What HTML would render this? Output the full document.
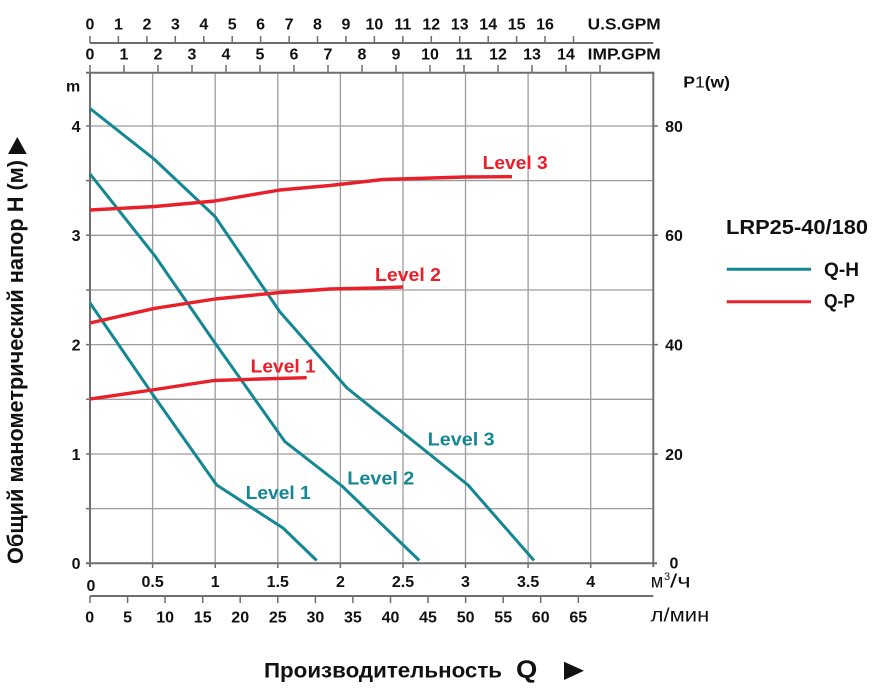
<!DOCTYPE html>
<html><head><meta charset="utf-8"><style>
html,body{margin:0;padding:0;background:#fff;}
svg{display:block;}
text{font-family:"Liberation Sans","DejaVu Sans",sans-serif;fill:#111;}
.b{font-weight:bold;}
</style></head><body>
<svg width="878" height="694" viewBox="0 0 878 694" xmlns="http://www.w3.org/2000/svg">
<!-- grid -->
<g stroke="#9c9c9c" stroke-width="1.3" fill="none">
<line x1="152.6" y1="72.7" x2="152.6" y2="563.3"/>
<line x1="215.2" y1="72.7" x2="215.2" y2="563.3"/>
<line x1="277.8" y1="72.7" x2="277.8" y2="563.3"/>
<line x1="340.4" y1="72.7" x2="340.4" y2="563.3"/>
<line x1="403" y1="72.7" x2="403" y2="563.3"/>
<line x1="465.5" y1="72.7" x2="465.5" y2="563.3"/>
<line x1="528.1" y1="72.7" x2="528.1" y2="563.3"/>
<line x1="590.7" y1="72.7" x2="590.7" y2="563.3"/>
<line x1="90" y1="508.6" x2="653.3" y2="508.6"/>
<line x1="90" y1="454" x2="653.3" y2="454"/>
<line x1="90" y1="399.3" x2="653.3" y2="399.3"/>
<line x1="90" y1="344.6" x2="653.3" y2="344.6"/>
<line x1="90" y1="290" x2="653.3" y2="290"/>
<line x1="90" y1="235.3" x2="653.3" y2="235.3"/>
<line x1="90" y1="180.6" x2="653.3" y2="180.6"/>
<line x1="90" y1="126" x2="653.3" y2="126"/>
</g>
<!-- axes -->
<g stroke="#6e6e6e" stroke-width="2" fill="none">
<line x1="90" y1="71.7" x2="90" y2="567"/>
<line x1="653.3" y1="71.7" x2="653.3" y2="567"/>
<line x1="86" y1="72.7" x2="654.3" y2="72.7"/>
<line x1="86" y1="563.3" x2="657" y2="563.3"/>
<line x1="90" y1="43" x2="653.3" y2="43"/>
<line x1="90" y1="596" x2="653.3" y2="596"/>
</g>
<g stroke="#6e6e6e" stroke-width="1.5" fill="none">
<path d="M86 508.6H90M86 454H90M86 399.3H90M86 344.6H90M86 290H90M86 235.3H90M86 180.6H90M86 126H90"/>
<path d="M653 454H658M653 344.6H658M653 235.3H658M653 126H658"/>
<path d="M152.6 563V568M215.2 563V568M277.8 563V568M340.4 563V568M403 563V568M465.5 563V568M528.1 563V568M590.7 563V568"/>
<path d="M90 596V603M127.6 596V603M165.1 596V603M202.7 596V603M240.2 596V603M277.8 596V603M315.4 596V603M352.9 596V603M390.5 596V603M428 596V603M465.6 596V603M503.2 596V603M540.7 596V603M578.3 596V603"/>
<path d="M90 43V36M118.4 43V36M146.9 43V36M175.3 43V36M203.8 43V36M232.2 43V36M260.6 43V36M289.1 43V36M317.5 43V36M346 43V36M374.4 43V36M402.8 43V36M431.3 43V36M459.7 43V36M488.2 43V36M516.6 43V36M545 43V36M573.5 43V36"/>
<path d="M90 72V65M124 72V65M158 72V65M192 72V65M226 72V65M260 72V65M294 72V65M328 72V65M362 72V65M396 72V65M430 72V65M464 72V65M498 72V65M532 72V65M566 72V65M600 72V65"/>
</g>
<!-- curves -->
<g fill="none" stroke-linejoin="round" stroke-linecap="butt">
<g stroke="#148794" stroke-width="3">
<polyline points="90,108.5 154,159 215,216.5 280,312 347,388 468,485 534,560.5"/>
<polyline points="90,174 155,256 215,343 285,441.7 342,486 419.3,560.5"/>
<polyline points="90,303 151.7,393 216.7,485 283,528 316.7,560.5"/>
</g>
<g stroke="#e8202a" stroke-width="3.4">
<polyline points="90,399 152,390 214,380.5 260,379 306.7,377.7"/>
<polyline points="90,323 155,308.3 215,299 280,292.5 330,289 385,287.7 403,287"/>
<polyline points="90,210 155,206.5 215,201 280,190 330,185.5 383,179.5 465,177 512,176.7"/>
</g>
</g>
<!-- curve labels -->
<g class="b" font-size="18.5">
<text x="482.7" y="169" style="fill:#e8202a" textLength="65" lengthAdjust="spacingAndGlyphs">Level 3</text>
<text x="375" y="281" style="fill:#e8202a" textLength="66" lengthAdjust="spacingAndGlyphs">Level 2</text>
<text x="250.7" y="372.7" style="fill:#e8202a" textLength="65" lengthAdjust="spacingAndGlyphs">Level 1</text>
<text x="245.7" y="499" style="fill:#148794" textLength="65" lengthAdjust="spacingAndGlyphs">Level 1</text>
<text x="347.3" y="484.3" style="fill:#148794" textLength="67" lengthAdjust="spacingAndGlyphs">Level 2</text>
<text x="427.7" y="445.7" style="fill:#148794" textLength="67" lengthAdjust="spacingAndGlyphs">Level 3</text>
</g>
<!-- top labels -->
<g class="b" font-size="16" text-anchor="middle">
<text x="90" y="29.5">0</text><text x="118.4" y="29.5">1</text><text x="146.9" y="29.5">2</text><text x="175.3" y="29.5">3</text><text x="203.8" y="29.5">4</text><text x="232.2" y="29.5">5</text><text x="260.6" y="29.5">6</text><text x="289.1" y="29.5">7</text><text x="317.5" y="29.5">8</text><text x="346" y="29.5">9</text><text x="374.4" y="29.5">10</text><text x="402.8" y="29.5">11</text><text x="431.3" y="29.5">12</text><text x="459.7" y="29.5">13</text><text x="488.2" y="29.5">14</text><text x="516.6" y="29.5">15</text><text x="545" y="29.5">16</text>
<text x="90" y="59.5">0</text><text x="124" y="59.5">1</text><text x="158" y="59.5">2</text><text x="192" y="59.5">3</text><text x="226" y="59.5">4</text><text x="260" y="59.5">5</text><text x="294" y="59.5">6</text><text x="328" y="59.5">7</text><text x="362" y="59.5">8</text><text x="396" y="59.5">9</text><text x="430" y="59.5">10</text><text x="464" y="59.5">11</text><text x="498" y="59.5">12</text><text x="532" y="59.5">13</text><text x="566" y="59.5">14</text>
</g>
<g class="b" font-size="16">
<text x="587.7" y="29.5" textLength="73" lengthAdjust="spacingAndGlyphs">U.S.GPM</text>
<text x="587.7" y="59.5" textLength="73" lengthAdjust="spacingAndGlyphs">IMP.GPM</text>
</g>
<!-- left y labels -->
<g class="b" font-size="16" text-anchor="end">
<text x="80.5" y="131.8">4</text><text x="80.5" y="241.1">3</text><text x="80.5" y="350.4">2</text><text x="80.5" y="459.8">1</text><text x="80.5" y="569">0</text>
</g>
<text class="b" x="66" y="91.7" font-size="16">m</text>
<!-- right labels -->
<g class="b" font-size="16" text-anchor="middle">
<text x="674" y="131.8">80</text><text x="674" y="241.1">60</text><text x="674" y="350.4">40</text><text x="674" y="459.8">20</text><text x="674" y="568.7">0</text>
</g>
<text class="b" x="683.3" y="87.3" font-size="16" textLength="46.7" lengthAdjust="spacingAndGlyphs">P<tspan font-weight="normal">1</tspan>(w)</text>
<!-- bottom m3/h labels -->
<g class="b" font-size="16" text-anchor="middle">
<text x="91" y="591">0</text><text x="152.6" y="587">0.5</text><text x="215.2" y="587">1</text><text x="277.8" y="587">1.5</text><text x="340.4" y="587">2</text><text x="403" y="587">2.5</text><text x="465.5" y="587">3</text><text x="528.1" y="587">3.5</text><text x="590.7" y="587">4</text>
</g>
<g class="b" font-size="16" text-anchor="middle">
<text x="89.7" y="622.5">0</text><text x="127.6" y="622.5">5</text><text x="165.1" y="622.5">10</text><text x="202.7" y="622.5">15</text><text x="240.2" y="622.5">20</text><text x="277.8" y="622.5">25</text><text x="315.4" y="622.5">30</text><text x="352.9" y="622.5">35</text><text x="390.5" y="622.5">40</text><text x="428" y="622.5">45</text><text x="465.6" y="622.5">50</text><text x="503.2" y="622.5">55</text><text x="540.7" y="622.5">60</text><text x="578.3" y="622.5">65</text>
</g>
<!-- units -->
<text x="650.7" y="587.3" font-size="19" textLength="12.5" lengthAdjust="spacingAndGlyphs">м</text>
<text x="664" y="580" font-size="11">3</text>
<text x="670" y="587.3" font-size="19" textLength="20.7" lengthAdjust="spacingAndGlyphs">/ч</text>
<text x="650.7" y="621.7" font-size="19" textLength="58.6" lengthAdjust="spacingAndGlyphs">л/мин</text>
<!-- bottom title -->
<text class="b" x="264" y="677.3" font-size="21" textLength="238" lengthAdjust="spacingAndGlyphs">Производительность</text>
<text class="b" x="516" y="678" font-size="25" textLength="21.3" lengthAdjust="spacingAndGlyphs">Q</text>
<polygon points="564,661.7 564,680 584,670.8" fill="#111"/>
<!-- left title -->
<text class="b" transform="translate(23,564) rotate(-90)" font-size="22" textLength="404" lengthAdjust="spacingAndGlyphs">Общий манометрический напор H (м)</text>
<polygon points="8,154 26.7,154 17.3,137" fill="#111"/>
<!-- legend -->
<text class="b" x="726" y="234" font-size="20" textLength="142" lengthAdjust="spacingAndGlyphs">LRP25-40/180</text>
<line x1="726.7" y1="269.3" x2="811" y2="269.3" stroke="#148794" stroke-width="3"/>
<line x1="726.7" y1="301.7" x2="811" y2="301.7" stroke="#e8202a" stroke-width="3"/>
<text class="b" x="824" y="276" font-size="19.5" textLength="35" lengthAdjust="spacingAndGlyphs">Q-H</text>
<text class="b" x="824" y="307.3" font-size="19.5" textLength="31" lengthAdjust="spacingAndGlyphs">Q-P</text>
</svg>
</body></html>
